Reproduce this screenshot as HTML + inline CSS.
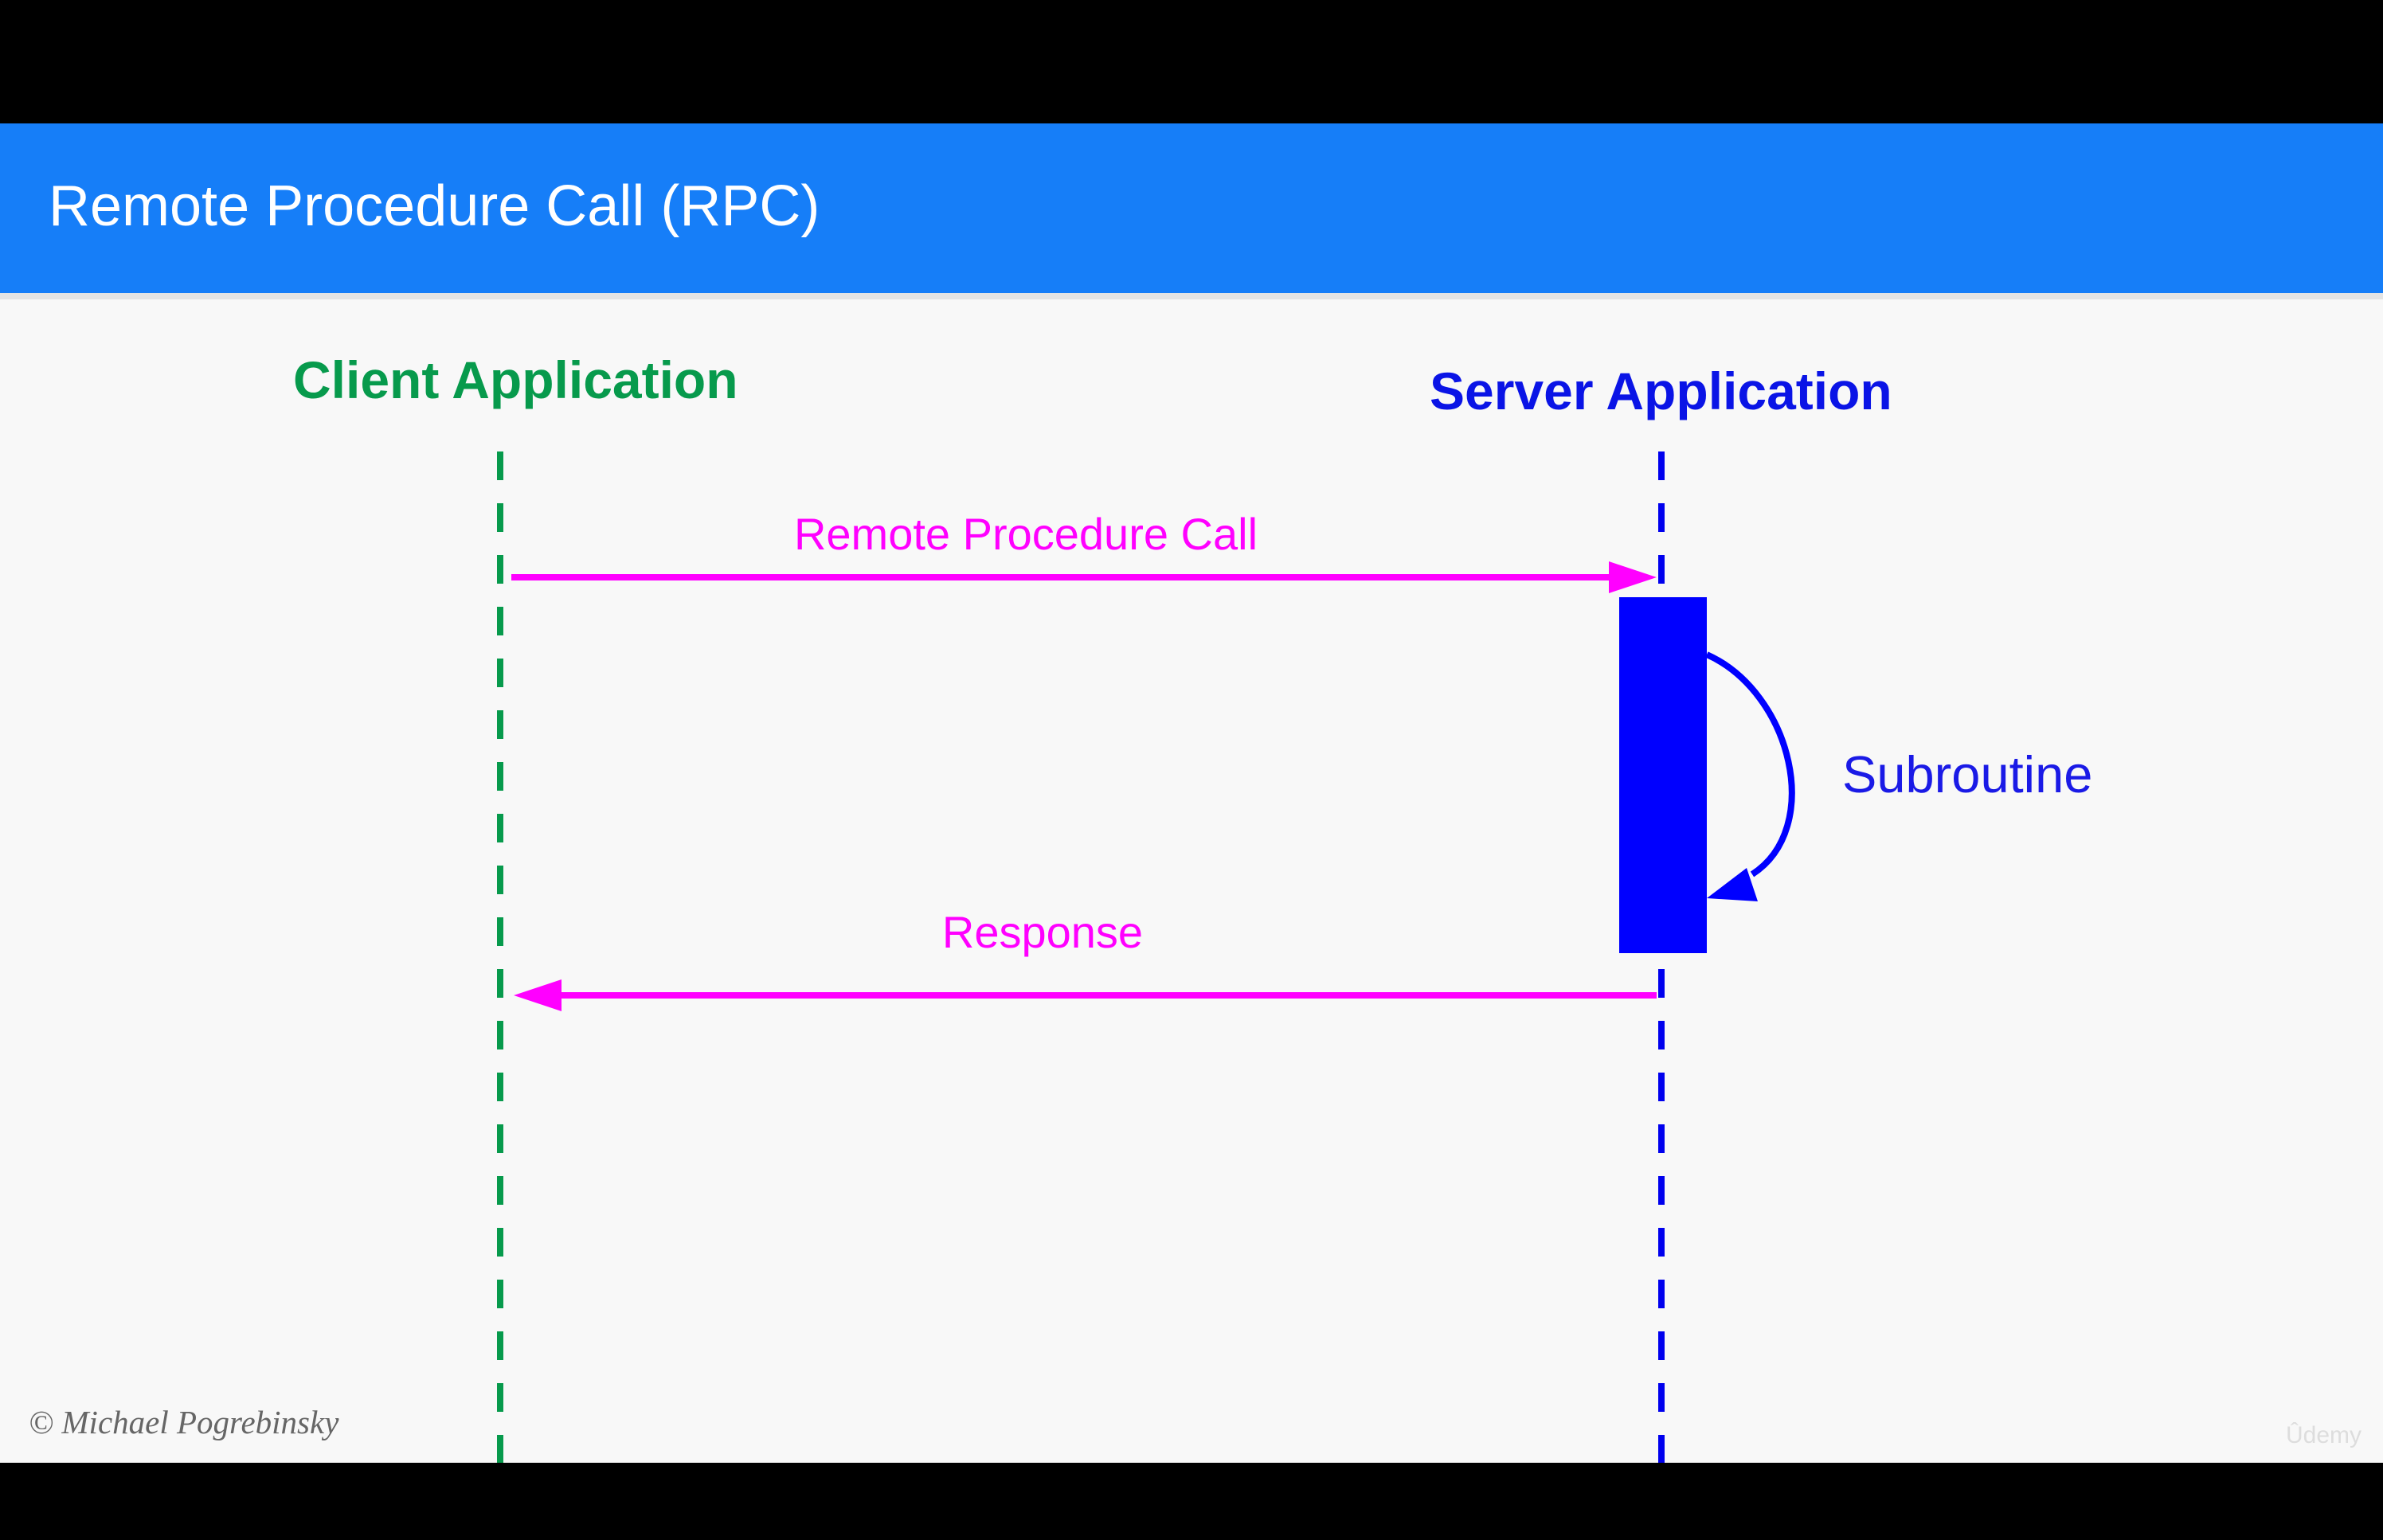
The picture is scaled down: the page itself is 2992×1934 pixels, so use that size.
<!DOCTYPE html>
<html><head><meta charset="utf-8"><style>
html,body{margin:0;padding:0;background:#000;}
#c{position:relative;width:2992px;height:1934px;overflow:hidden;background:#000;}
svg{position:absolute;left:0;top:0;}
</style></head><body><div id="c">
<svg width="2992" height="1934" viewBox="0 0 2992 1934" xmlns="http://www.w3.org/2000/svg">
<rect x="0" y="155" width="2992" height="1682" fill="#f8f8f8"/>
<rect x="0" y="155" width="2992" height="213" fill="#167ef8"/>
<rect x="0" y="368" width="2992" height="8" fill="#e4e4e4"/>
<text x="61" y="283" font-family="Liberation Sans, sans-serif" font-size="72" fill="#ffffff">Remote Procedure Call (RPC)</text>
<text x="368" y="500" font-family="Liberation Sans, sans-serif" font-size="66" font-weight="bold" fill="#079a4c">Client Application</text>
<text x="1795" y="514" font-family="Liberation Sans, sans-serif" font-size="66" font-weight="bold" fill="#0a14e6">Server Application</text>
<line x1="628" y1="567" x2="628" y2="1837" stroke="#079a4c" stroke-width="8" stroke-dasharray="36 29"/>
<line x1="2086" y1="567" x2="2086" y2="1837" stroke="#0000ee" stroke-width="8" stroke-dasharray="36 29"/>
<line x1="642" y1="725" x2="2030" y2="725" stroke="#ff00ff" stroke-width="8"/>
<polygon points="2080,725 2020,705 2020,745" fill="#ff00ff"/>
<text x="1288" y="690" text-anchor="middle" font-family="Liberation Sans, sans-serif" font-size="56" fill="#ff00ff">Remote Procedure Call</text>
<rect x="2033" y="750" width="110" height="447" fill="#0000ff"/>
<path d="M2143,822 C2250,870 2290,1040 2200,1098" fill="none" stroke="#0000ff" stroke-width="8"/>
<polygon points="2143,1128 2193,1090 2207,1132" fill="#0000ff"/>
<text x="2313" y="995" font-family="Liberation Sans, sans-serif" font-size="65" fill="#1a1ae6">Subroutine</text>
<line x1="2080" y1="1250" x2="700" y2="1250" stroke="#ff00ff" stroke-width="8"/>
<polygon points="645,1250 705,1230 705,1270" fill="#ff00ff"/>
<text x="1309" y="1190" text-anchor="middle" font-family="Liberation Sans, sans-serif" font-size="56" fill="#ff00ff">Response</text>
<text x="36" y="1800" font-family="Liberation Serif, serif" font-style="italic" font-size="41" fill="#666">© Michael Pogrebinsky</text>
<text x="2870" y="1812" font-family="Liberation Sans, sans-serif" font-size="30" fill="#ddd">Ûdemy</text>
</svg>
</div></body></html>
